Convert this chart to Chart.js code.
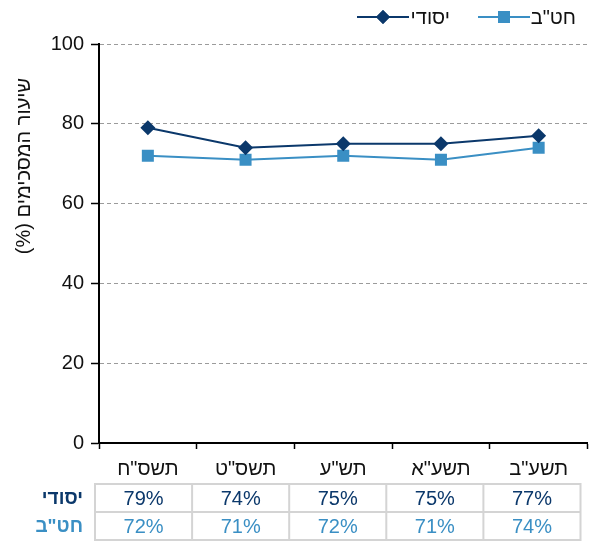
<!DOCTYPE html>
<html lang="he">
<head>
<meta charset="utf-8">
<script src="https://cdn.jsdelivr.net/npm/chart.js@4/dist/chart.umd.min.js"></script>
<style>
  html, body { margin: 0; padding: 0; background: #ffffff; overflow: hidden; }
  #wrap { width: 589px; height: 541px; position: relative; overflow: hidden; }
  #c { display: block; }
</style>
</head>
<body>
<div id="wrap"><canvas id="c" width="596" height="541"></canvas></div>
<script>
// School years (Hebrew calendar)
const years = ['תשס"ח', 'תשס"ט', 'תש"ע', 'תשע"א', 'תשע"ב'];
// Share of agreeing respondents, percent
const elementary = [79, 74, 75, 75, 77];   // יסודי
const middle = [72, 71, 72, 71, 74];       // חט"ב
const yTicks = [0, 20, 40, 60, 80, 100];
const seriesNames = ['יסודי', 'חט"ב'];
const axisTitle = 'שיעור המסכימים (%)';

const NAVY = '#0b386b';
const SKY = '#3a8fc4';
const FONT = '"Liberation Sans", Arial, sans-serif';

// Legend: short line with the marker in its middle, then the series name
const legendPlugin = {
  id: 'lineLegend',
  afterDraw(chart) {
    const ctx = chart.ctx;
    const items = [
      { x: 357, textRight: 450, color: NAVY, style: 'rectRot', r: 7, name: seriesNames[0] },
      { x: 478, textRight: 576, color: SKY, style: 'rect', r: 8.5, name: seriesNames[1] }
    ];
    const y = 17;
    ctx.save();
    items.forEach(it => {
      ctx.strokeStyle = it.color;
      ctx.lineWidth = 2;
      ctx.beginPath();
      ctx.moveTo(it.x, y);
      ctx.lineTo(it.x + 52, y);
      ctx.stroke();
      ctx.fillStyle = it.color;
      Chart.helpers.drawPoint(ctx, { pointStyle: it.style, radius: it.r, borderWidth: 0, rotation: 0 }, it.x + 26, y);
      ctx.fill();
      ctx.fillStyle = '#111111';
      ctx.font = '20px ' + FONT;
      ctx.textBaseline = 'middle';
      ctx.direction = 'rtl';
      ctx.textAlign = 'right';
      ctx.fillText(it.name, it.textRight, y + 1);
    });
    ctx.restore();
  }
};

// Rotated y-axis title
const yTitlePlugin = {
  id: 'yTitle',
  afterDraw(chart) {
    const ctx = chart.ctx;
    ctx.save();
    ctx.translate(24, 166);
    ctx.rotate(-Math.PI / 2);
    ctx.fillStyle = '#111111';
    ctx.font = '20px ' + FONT;
    ctx.textAlign = 'center';
    ctx.textBaseline = 'middle';
    ctx.direction = 'rtl';
    ctx.fillText(axisTitle, 0, 0);
    ctx.restore();
  }
};

// Data table under the category axis
const tablePlugin = {
  id: 'dataTable',
  afterDraw(chart) {
    const ctx = chart.ctx;
    const xs = chart.scales.x;
    const left = xs.left - 4;
    const right = xs.right - 7;
    const colW = (right - left) / years.length;
    const top = 484, mid = 512, bottom = 540;
    ctx.save();
    // grid
    ctx.strokeStyle = '#d4d4d4';
    ctx.lineWidth = 2;
    ctx.beginPath();
    [top, mid, bottom].forEach(yy => { ctx.moveTo(left, yy); ctx.lineTo(right, yy); });
    for (let i = 0; i <= years.length; i++) {
      const xx = left + i * colW;
      ctx.moveTo(xx, top - 1); ctx.lineTo(xx, bottom + 1);
    }
    ctx.stroke();
    // values
    ctx.font = '20px ' + FONT;
    ctx.textAlign = 'center';
    ctx.textBaseline = 'middle';
    const rows = [
      { vals: elementary, color: NAVY, y: (top + mid) / 2 + 1 },
      { vals: middle, color: SKY, y: (mid + bottom) / 2 + 1 }
    ];
    rows.forEach(r => {
      ctx.fillStyle = r.color;
      r.vals.forEach((v, i) => ctx.fillText(v + '%', left + (i + 0.5) * colW, r.y));
    });
    // row headers
    ctx.font = 'bold 19px ' + FONT;
    ctx.direction = 'rtl';
    ctx.textAlign = 'right';
    ctx.fillStyle = NAVY;
    ctx.fillText(seriesNames[0], 83, rows[0].y);
    ctx.fillStyle = SKY;
    ctx.fillText(seriesNames[1], 83, rows[1].y);
    ctx.restore();
  }
};

new Chart(document.getElementById('c'), {
  type: 'line',
  data: {
    labels: years,
    datasets: [
      {
        label: seriesNames[0],
        data: elementary,
        borderColor: NAVY,
        backgroundColor: NAVY,
        borderWidth: 2,
        pointStyle: 'rectRot',
        pointRadius: 7.5,
        pointBorderWidth: 0,
        tension: 0,
        order: 0
      },
      {
        label: seriesNames[1],
        data: middle,
        borderColor: SKY,
        backgroundColor: SKY,
        borderWidth: 2,
        pointStyle: 'rect',
        pointRadius: 8.5,
        pointBorderWidth: 0,
        tension: 0,
        order: 1
      }
    ]
  },
  options: {
    responsive: false,
    animation: false,
    devicePixelRatio: 1,
    layout: { padding: { left: 0, right: 0, top: 44, bottom: 58 } },
    plugins: {
      legend: { display: false },
      tooltip: { enabled: false }
    },
    scales: {
      x: {
        offset: true,
        afterFit(s) { s.height = 40; s.paddingLeft = 0; s.paddingRight = 0; },
        grid: {
          offset: true,
          drawOnChartArea: false,
          drawTicks: true,
          tickLength: 6,
          tickColor: '#000000',
          tickWidth: 1.5
        },
        border: { display: true, color: '#000000', width: 2 },
        ticks: {
          color: '#111111',
          font: { family: FONT, size: 20 },
          padding: 8,
          maxRotation: 0
        }
      },
      y: {
        min: 0,
        max: 100,
        afterFit(s) { s.width = 99; s.paddingTop = 0; s.paddingBottom = 0; },
        afterBuildTicks(s) { s.ticks = yTicks.map(v => ({ value: v })); },
        grid: {
          color: c => (c.tick && c.tick.value === 0) ? 'rgba(0,0,0,0)' : '#9b9b9b',
          lineWidth: 1,
          tickLength: 8,
          tickColor: '#000000',
          tickWidth: 1.5,
          tickBorderDash: []
        },
        border: { display: true, color: '#000000', width: 2, dash: [4, 3] },
        ticks: {
          color: '#111111',
          font: { family: FONT, size: 20 },
          padding: 7
        }
      }
    }
  },
  plugins: [legendPlugin, yTitlePlugin, tablePlugin]
});
</script>
</body>
</html>
